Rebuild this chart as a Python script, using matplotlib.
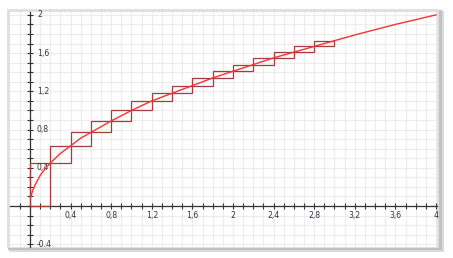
import matplotlib
matplotlib.use("Agg")
import matplotlib.pyplot as plt
from matplotlib.patches import Rectangle
from matplotlib.ticker import MultipleLocator
from matplotlib.transforms import offset_copy

# curve y = sqrt(x)
curve_x = [0.01, 0.02, 0.03, 0.05, 0.07, 0.1, 0.15, 0.2, 0.3, 0.4, 0.5, 0.6, 0.8,
           1.0, 1.2, 1.4, 1.6, 1.8, 2.0, 2.4, 2.8, 3.2, 3.6, 4.0]
curve_y = [0.10, 0.14, 0.17, 0.22, 0.26, 0.32, 0.39, 0.45, 0.55, 0.63, 0.71, 0.77, 0.89,
           1.00, 1.10, 1.18, 1.26, 1.34, 1.41, 1.55, 1.67, 1.79, 1.90, 2.00]

# corners of the staircase boxes
step_x = [0.0, 0.2, 0.4, 0.6, 0.8, 1.0, 1.2, 1.4, 1.6, 1.8, 2.0, 2.2, 2.4, 2.6, 2.8, 3.0]
step_y = [0.0, 0.45, 0.63, 0.77, 0.89, 1.00, 1.10, 1.18, 1.26, 1.34, 1.41, 1.48, 1.55,
          1.61, 1.67, 1.73]

x_labels = [0.4, 0.8, 1.2, 1.6, 2, 2.4, 2.8, 3.2, 3.6, 4]
y_labels = [-0.4, 0.4, 0.8, 1.2, 1.6, 2]

W, H = 453, 258
fig = plt.figure(figsize=(W / 100, H / 100), dpi=100)
fig.patch.set_facecolor("white")

def px_rect(x0, y0, x1, y1, color, z):
    fig.patches.append(Rectangle((x0 / W, 1 - y1 / H), (x1 - x0) / W, (y1 - y0) / H,
                                 transform=fig.transFigure, facecolor=color,
                                 edgecolor="none", zorder=z))

# panel frame with shadow
px_rect(9, 11, 444, 252, "#dadada", 0)
px_rect(8, 10, 442, 250, "#c2c2c2", 0.5)
px_rect(7, 9, 439, 248, "#e0e0e0", 1)

ax = fig.add_axes([10 / W, 1 - 246.5 / H, 427 / W, 234.5 / H])
ax.set_zorder(5)
ax.set_facecolor("white")
ax.set_xlim(-0.197, 4.01)
ax.set_ylim(-0.424, 2.03)

ax.xaxis.set_major_locator(MultipleLocator(0.1))
ax.yaxis.set_major_locator(MultipleLocator(0.1))
ax.grid(True, color="#ececec", lw=0.8, zorder=0)
ax.set_axisbelow(True)

for s in ["top", "right"]:
    ax.spines[s].set_visible(False)
ax.spines["left"].set_position(("data", 0))
ax.spines["bottom"].set_position(("data", 0))
for s in ["left", "bottom"]:
    ax.spines[s].set_color("#333333")
    ax.spines[s].set_linewidth(0.9)
ax.tick_params(direction="inout", length=4, width=0.8, color="#333333",
               labelbottom=False, labelleft=False)

for i in range(len(step_x) - 1):
    ax.add_patch(Rectangle((step_x[i], step_y[i]), step_x[i + 1] - step_x[i],
                           step_y[i + 1] - step_y[i], fill=False,
                           edgecolor="#a43c3c", lw=0.9, zorder=3))

ax.plot(curve_x, curve_y, color="#ff3030", lw=1, zorder=4)

tx = offset_copy(ax.transData, fig=fig, x=0, y=-7, units="points")
for v in x_labels:
    ax.text(v, 0, f"{v:g}".replace(".", ","), transform=tx, ha="center", va="center",
            fontsize=5.6, color="#333344")
ty = offset_copy(ax.transData, fig=fig, x=5, y=0, units="points")
for v in y_labels:
    t = ax.text(0, v, f"{v:g}".replace(".", ","), transform=ty, ha="left", va="center",
                fontsize=5.6, color="#333344", clip_on=v < 0)
    if v < 0:
        t.set_clip_path(ax.patch)

fig.savefig("out.png", dpi=100)
